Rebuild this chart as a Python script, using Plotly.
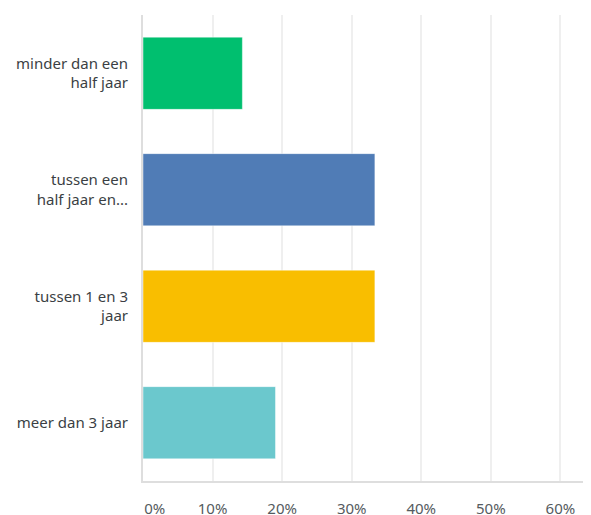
import plotly.graph_objects as go

categories = ["minder dan een<br>half jaar", "tussen een<br>half jaar en...", "tussen 1 en 3<br>jaar", "meer dan 3 jaar"]
values = [3/21, 7/21, 7/21, 4/21]
colors = ["#00BF6F", "#507CB6", "#F9BE00", "#6BC8CD"]
tick_vals = [0, 0.1, 0.2, 0.3, 0.4, 0.5, 0.6]
tick_text = ["\u00a0\u00a0\u00a0\u00a0\u00a0\u00a00%", "10%", "20%", "30%", "40%", "50%", "60%"]

fig = go.Figure(go.Bar(
    x=values, y=categories, orientation="h",
    marker=dict(color=colors, line=dict(color="rgba(255,255,255,0.45)", width=1)),
    hoverinfo="skip",
))

fig.update_layout(
    width=583, height=507,
    margin=dict(l=135, r=0, t=7, b=34),
    paper_bgcolor="white", plot_bgcolor="white",
    bargap=0.38,
    showlegend=False,
    font=dict(family="Noto Sans", size=15, color="#3b3f44"),
)
fig.update_xaxes(
    range=[0, 0.644], tickvals=tick_vals, ticktext=tick_text,
    showgrid=True, gridcolor="#efefef", gridwidth=2,
    zeroline=False,
    showline=True, linecolor="#dedede", linewidth=2,
    ticks="outside", ticklen=13, tickcolor="rgba(0,0,0,0)",
    tickfont=dict(size=15, color="#555b60"),
    automargin=False, fixedrange=True,
)
fig.update_yaxes(
    autorange="reversed",
    showline=True, linecolor="#dedede", linewidth=2,
    ticks="outside", ticklen=10, tickcolor="rgba(0,0,0,0)",
    tickfont=dict(size=15, color="#3b3f44"),
    automargin=False, fixedrange=True,
)

fig.write_html("out.html")
